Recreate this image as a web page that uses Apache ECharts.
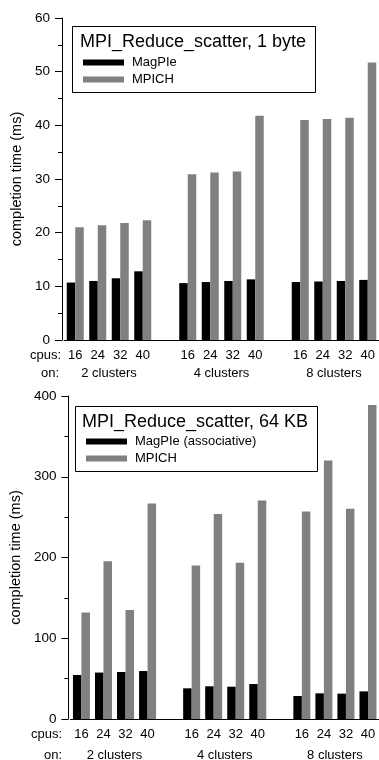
<!DOCTYPE html>
<html>
<head>
<meta charset="utf-8">
<script src="https://cdn.jsdelivr.net/npm/echarts@6/dist/echarts.min.js"></script>
<style>
html, body { margin: 0; padding: 0; background: #fff; }
#chart { width: 379px; height: 760px; }
</style>
</head>
<body>
<div id="chart"></div>
<script>
// cpus per group, blank slot between cluster groups
const cpus = ['16', '24', '32', '40', '', '16', '24', '32', '40', '', '16', '24', '32', '40']
const clusters = ['2 clusters', '4 clusters', '8 clusters']

// MPI_Reduce_scatter, 1 byte (ms)
const magpie1 = [10.7, 11.0, 11.5, 12.8, null, 10.6, 10.8, 11.0, 11.3, null, 10.8, 10.9, 11.0, 11.2]
const mpich1 = [21.0, 21.4, 21.8, 22.3, null, 30.9, 31.2, 31.4, 41.8, null, 41.0, 41.2, 41.4, 51.7]

// MPI_Reduce_scatter, 64 KB (ms)
const magpie64 = [54.5, 57.5, 58.2, 59.4, null, 38, 40.5, 40, 43.3, null, 28.5, 31.8, 31.4, 34.2]
const mpich64 = [132, 195.5, 135, 267, null, 190, 254, 193.5, 270.5, null, 257, 320, 260.5, 389]

const font = 'Liberation Sans, Arial, Helvetica, sans-serif'
const chart = echarts.init(document.getElementById('chart'))

const xAxisOf = (gi) => ({
  type: 'category',
  gridIndex: gi,
  data: cpus,
  axisTick: { show: false },
  axisLine: { lineStyle: { color: '#000', width: 1 } },
  axisLabel: { interval: 0, margin: 9, fontSize: 13, color: '#000', fontFamily: font }
})

const yAxisOf = (gi, max, interval) => ({
  type: 'value',
  gridIndex: gi,
  min: 0,
  max: max,
  interval: interval,
  offset: 2,
  name: 'completion time (ms)',
  nameLocation: 'middle',
  nameGap: 30,
  nameTextStyle: { fontSize: 14.5, color: '#000', fontFamily: font },
  axisLine: { show: true, lineStyle: { color: '#000', width: 1 } },
  axisTick: { show: true, length: 7, lineStyle: { color: '#000' } },
  minorTick: { show: true, splitNumber: 2, length: 4, lineStyle: { color: '#000' } },
  splitLine: { show: false },
  axisLabel: { margin: 12, fontSize: 13.5, color: '#000', fontFamily: font }
})

const barOf = (name, gi, data, color) => ({
  name: name,
  type: 'bar',
  xAxisIndex: gi,
  yAxisIndex: gi,
  data: data,
  barWidth: 8.5,
  barGap: '0%',
  itemStyle: { color: color },
  emphasis: { disabled: true }
})

const legendOf = (names, left, top) => ({
  data: names,
  orient: 'vertical',
  left: left,
  top: top,
  padding: 0,
  itemWidth: 41,
  itemHeight: 6,
  itemGap: 4,
  icon: 'rect',
  selectedMode: false,
  textStyle: { fontSize: 13, color: '#000', fontFamily: font, lineHeight: 13, padding: [0, 0, 0, 3] }
})

const titleOf = (text, left, top) => ({
  text: text,
  left: left,
  top: top,
  padding: 0,
  textStyle: { fontSize: 18, fontWeight: 'normal', color: '#000', fontFamily: font }
})

chart.setOption({
  animation: false,
  title: [
    titleOf('MPI_Reduce_scatter, 1 byte', 80, 32.7),
    titleOf('MPI_Reduce_scatter, 64 KB', 82, 412.7)
  ],
  legend: [
    legendOf(['MagPIe', 'MPICH'], 83, 56),
    legendOf(['MagPIe (associative)', 'MPICH'], 86, 435)
  ],
  grid: [
    { left: 64, top: 18, width: 318.5, height: 322 },
    { left: 67, top: 396, width: 318.5, height: 323 }
  ],
  xAxis: [xAxisOf(0), xAxisOf(1)],
  yAxis: [yAxisOf(0, 60, 10), yAxisOf(1, 400, 100)],
  series: [
    barOf('MagPIe', 0, magpie1, '#000'),
    barOf('MPICH', 0, mpich1, '#808080'),
    barOf('MagPIe (associative)', 1, magpie64, '#000'),
    barOf('MPICH', 1, mpich64, '#808080')
  ]
})

// group labels placed between the 2nd and 3rd bar pair of each group
const textEl = (text, x, y, align) => ({
  type: 'text',
  x: x,
  y: y,
  style: { text: text, font: '13px ' + font, fill: '#000', textAlign: align, textVerticalAlign: 'middle' }
})

const graphics = [
  { type: 'rect', shape: { x: 72.5, y: 26.5, width: 243, height: 66 }, style: { fill: 'none', stroke: '#000', lineWidth: 1 } },
  { type: 'rect', shape: { x: 75.5, y: 406.5, width: 242, height: 65 }, style: { fill: 'none', stroke: '#000', lineWidth: 1 } },
  textEl('cpus:', 61, 355.7, 'right'),
  textEl('on:', 59, 373.3, 'right'),
  textEl('cpus:', 62, 734.4, 'right'),
  textEl('on:', 62, 755, 'right')
]
const rowY = [373.3, 755]
for (let gi = 0; gi < 2; gi++) {
  clusters.forEach((c, k) => {
    const a = chart.convertToPixel({ xAxisIndex: gi }, k * 5 + 1)
    const b = chart.convertToPixel({ xAxisIndex: gi }, k * 5 + 2)
    graphics.push(textEl(c, (a + b) / 2, rowY[gi], 'center'))
  })
}
chart.setOption({ graphic: graphics })
</script>
</body>
</html>
